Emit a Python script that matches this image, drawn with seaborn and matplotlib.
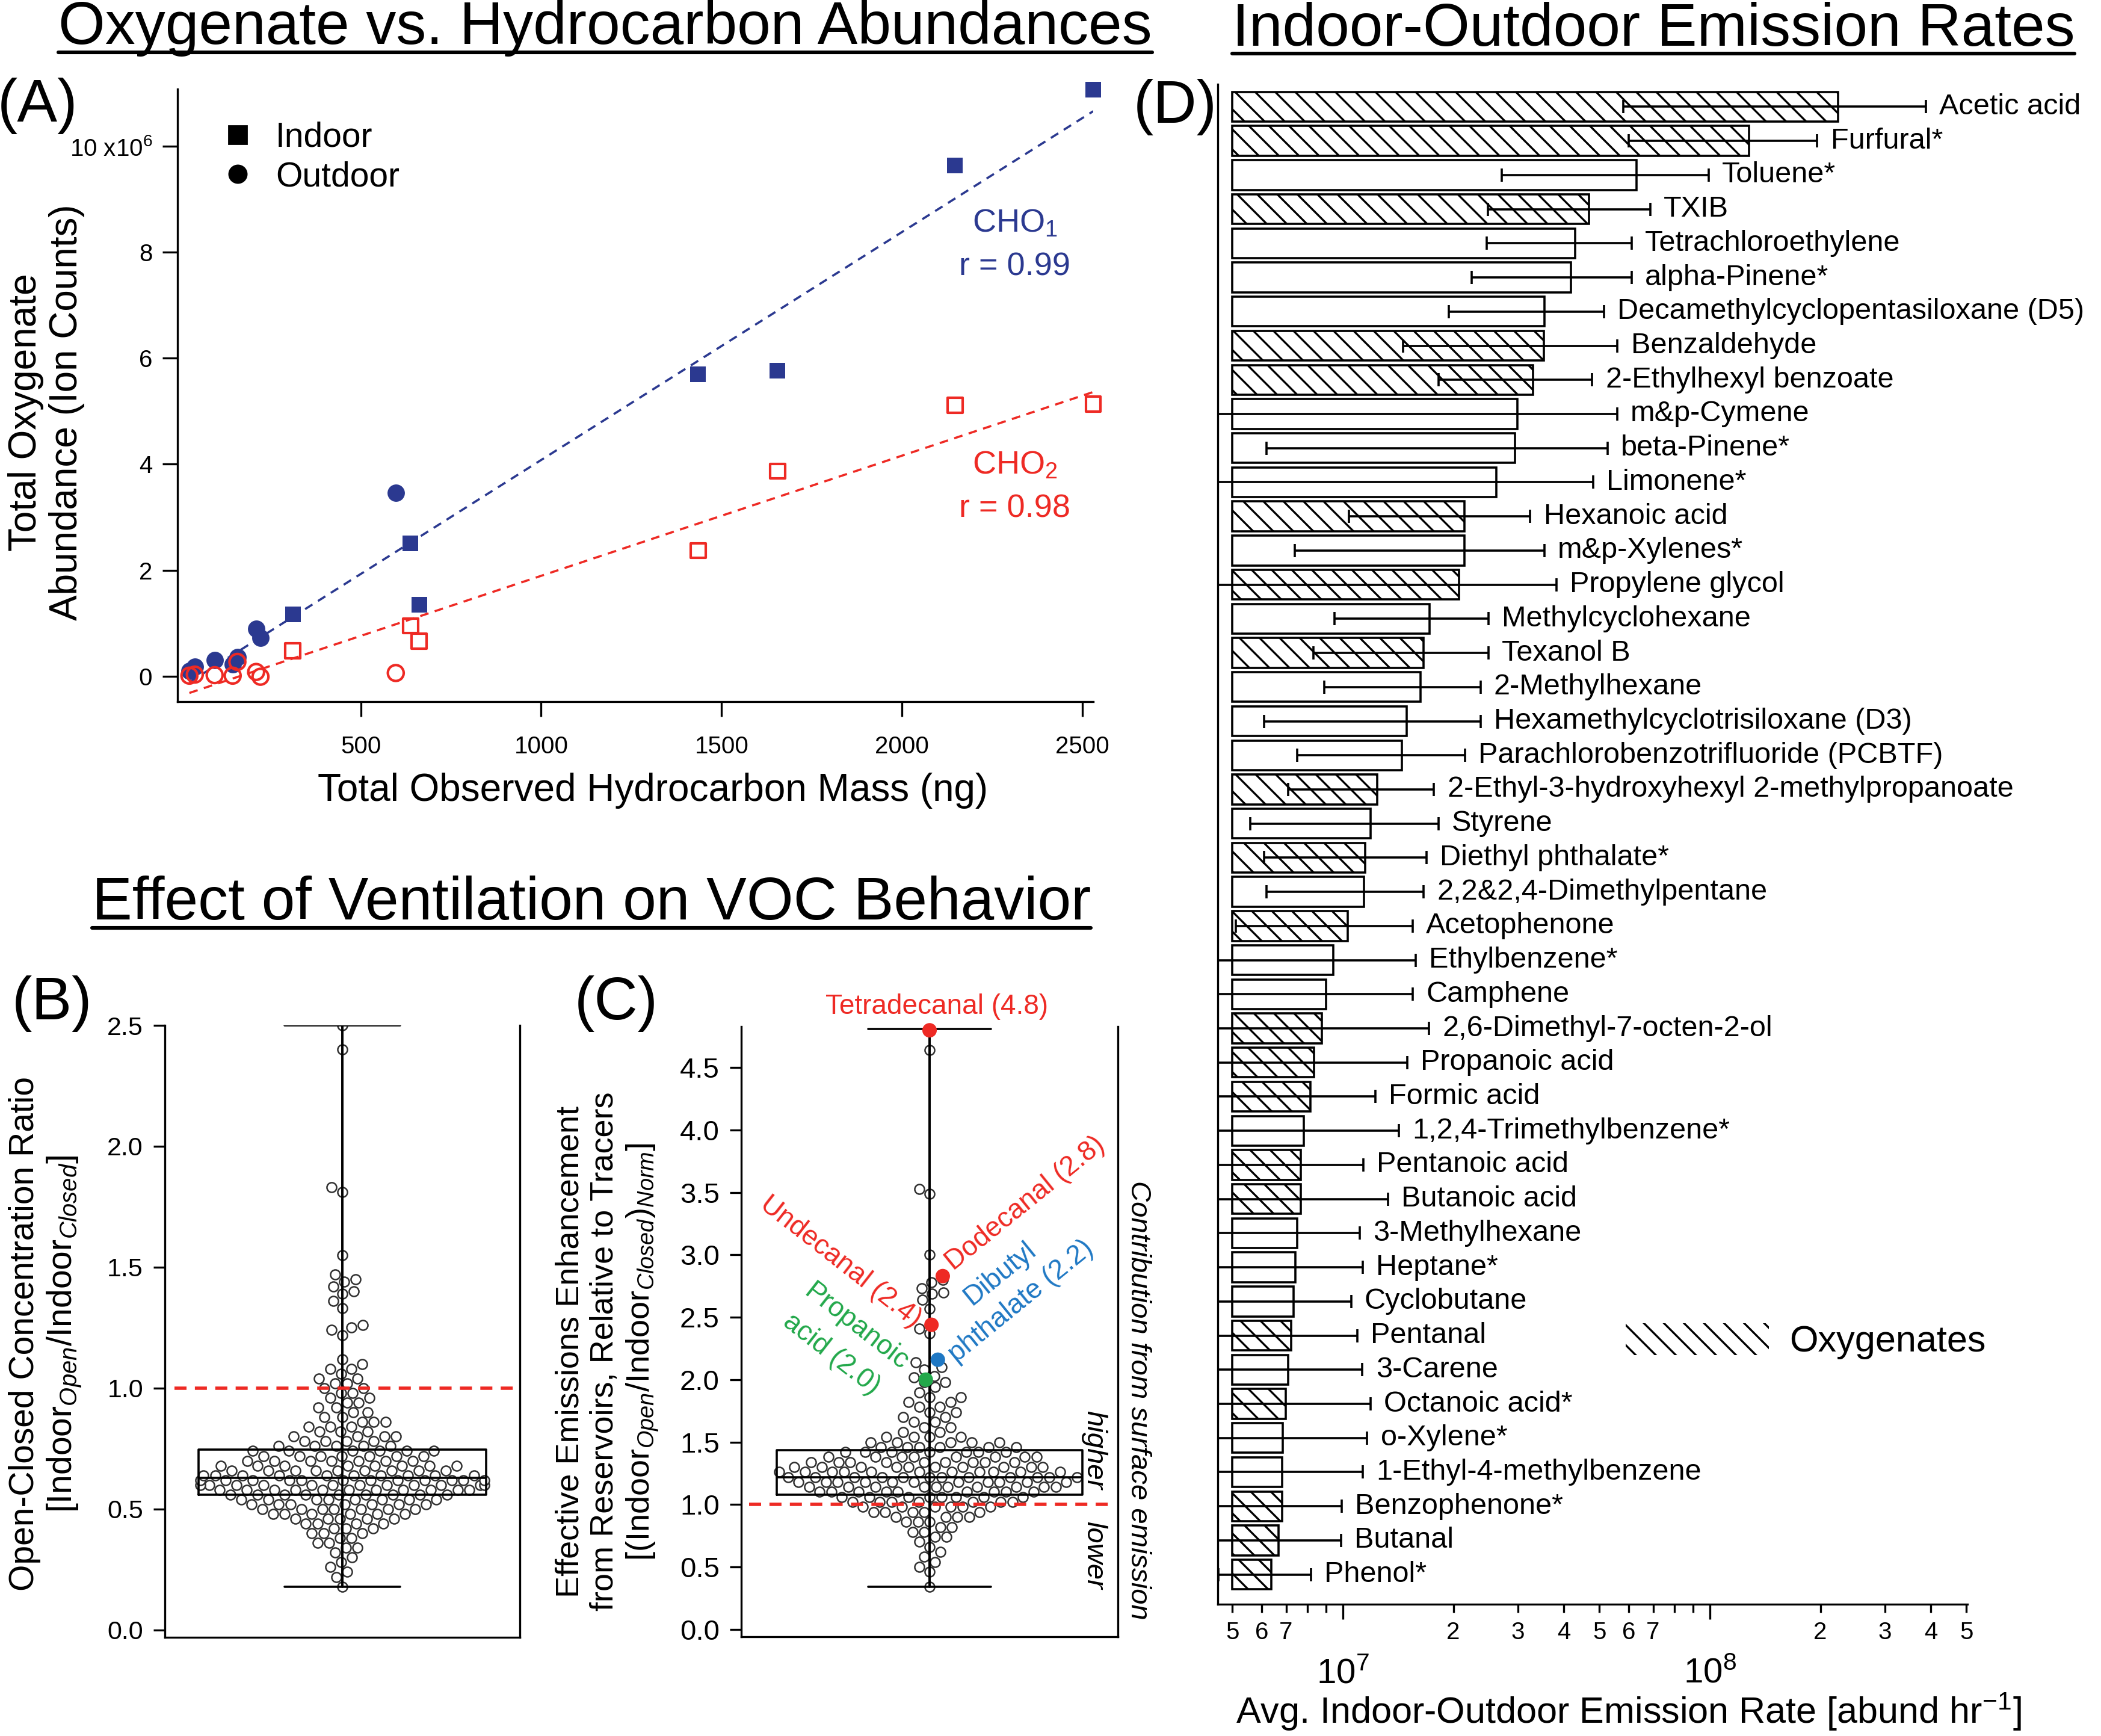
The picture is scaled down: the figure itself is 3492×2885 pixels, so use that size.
import numpy as np
import pandas as pd
import matplotlib
matplotlib.use('Agg')
import matplotlib.pyplot as plt
from matplotlib.lines import Line2D
from matplotlib.patches import Patch
from matplotlib.ticker import LogLocator, FuncFormatter
import seaborn as sns

# ---- style ----
sns.set_style('ticks', rc={'axes.edgecolor': 'black', 'xtick.color': 'black',
                           'ytick.color': 'black', 'text.color': 'black',
                           'axes.labelcolor': 'black'})
plt.rcParams['font.family'] = ['Liberation Sans', 'DejaVu Sans']
plt.rcParams['mathtext.fontset'] = 'custom'
plt.rcParams['mathtext.rm'] = 'Liberation Sans'
plt.rcParams['mathtext.it'] = 'Liberation Sans:italic'
plt.rcParams['mathtext.bf'] = 'Liberation Sans:bold'
plt.rcParams['hatch.linewidth'] = 1.2
plt.rcParams['axes.linewidth'] = 1.2

BLUE = '#2B3990'
RED = '#EE2A24'
LBLUE = '#1F78C4'
GREEN = '#22A84A'

# ---- (A) oxygenate vs hydrocarbon data (ion counts in 1e6) ----
indoor_mass = [312, 638, 662, 1435, 1655, 2147, 2530]
indoor_cho1 = [1.17, 2.51, 1.35, 5.70, 5.77, 9.64, 11.07]
indoor_cho2 = [0.48, 0.95, 0.66, 2.37, 3.87, 5.11, 5.14]
outdoor_mass = [25, 40, 95, 145, 158, 210, 222, 597]
outdoor_cho1 = [0.10, 0.18, 0.30, 0.22, 0.36, 0.89, 0.72, 3.46]
outdoor_cho2 = [0.01, 0.03, 0.02, 0.01, 0.27, 0.08, -0.01, 0.06]

b_levels = [0.18, 0.22, 0.24, 0.26, 0.28, 0.30, 0.32, 0.34, 0.36, 0.38, 0.40, 0.42,
            0.44, 0.46, 0.48, 0.50, 0.52, 0.54, 0.56, 0.58, 0.60, 0.62, 0.64, 0.66,
            0.68, 0.70, 0.72, 0.74, 0.76, 0.78, 0.80, 0.82, 0.84, 0.86, 0.88, 0.90,
            0.92, 0.94, 0.96, 0.98, 1.00, 1.02, 1.04, 1.06, 1.08, 1.10, 1.12]
b_counts = [1, 1, 1, 1, 1, 1, 1, 2, 2, 2, 3, 3,
            4, 5, 6, 7, 7, 8, 9, 11, 12, 12, 10, 9,
            8, 7, 7, 6, 5, 4, 4, 3, 3, 3, 2, 2,
            2, 2, 2, 2, 2, 2, 2, 1, 2, 1, 1]
b_high = [1.22, 1.24, 1.25, 1.26, 1.33, 1.36, 1.39, 1.40, 1.42, 1.44, 1.45, 1.47,
          1.55, 1.81, 1.83, 2.40, 2.50]
b_box = dict(whislo=0.18, q1=0.56, med=0.63, q3=0.745, whishi=2.50)

# ---- (C) effective emissions enhancement ----
c_levels = [0.34, 0.46, 0.50, 0.54, 0.58, 0.62, 0.66, 0.70, 0.74, 0.78, 0.82, 0.86,
            0.90, 0.94, 0.98, 1.02, 1.06, 1.10, 1.14, 1.18, 1.22, 1.26, 1.30, 1.34,
            1.38, 1.42, 1.46, 1.50, 1.54, 1.58, 1.62, 1.66, 1.70, 1.74, 1.78, 1.82,
            1.86, 1.90, 1.94, 1.98]
c_counts = [1, 1, 1, 1, 1, 1, 1, 1, 2, 2, 2, 3,
            4, 5, 6, 7, 8, 9, 10, 11, 12, 11, 10, 9,
            8, 7, 6, 5, 4, 2, 2, 2, 2, 2, 2, 2,
            2, 1, 1, 2]
c_high = [2.02, 2.03, 2.08, 2.10, 2.14, 2.37, 2.41, 2.57, 2.64, 2.69, 2.70, 2.73,
          2.78, 2.80, 3.00, 3.49, 3.53, 4.64]
c_box = dict(whislo=0.34, q1=1.08, med=1.22, q3=1.435, whishi=4.81)
c_named = ['Tetradecanal', 'Dodecanal', 'Undecanal', 'Dibutyl phthalate', 'Propanoic acid']
c_named_value = [4.80, 2.83, 2.44, 2.16, 2.00]
c_named_dx = [0.0, 0.035, 0.005, 0.022, -0.01]
c_named_color = [RED, RED, RED, LBLUE, GREEN]

# ---- (D) indoor-outdoor emission rates (abund/hr, in 1e6) ----
d_compounds = ['Acetic acid', 'Furfural*', 'Toluene*', 'TXIB', 'Tetrachloroethylene',
               'alpha-Pinene*', 'Decamethylcyclopentasiloxane (D5)', 'Benzaldehyde',
               '2-Ethylhexyl benzoate', 'm&p-Cymene', 'beta-Pinene*', 'Limonene*',
               'Hexanoic acid', 'm&p-Xylenes*', 'Propylene glycol', 'Methylcyclohexane',
               'Texanol B', '2-Methylhexane', 'Hexamethylcyclotrisiloxane (D3)',
               'Parachlorobenzotrifluoride (PCBTF)',
               '2-Ethyl-3-hydroxyhexyl 2-methylpropanoate', 'Styrene', 'Diethyl phthalate*',
               '2,2&2,4-Dimethylpentane', 'Acetophenone', 'Ethylbenzene*', 'Camphene',
               '2,6-Dimethyl-7-octen-2-ol', 'Propanoic acid', 'Formic acid',
               '1,2,4-Trimethylbenzene*', 'Pentanoic acid', 'Butanoic acid', '3-Methylhexane',
               'Heptane*', 'Cyclobutane', 'Pentanal', '3-Carene', 'Octanoic acid*',
               'o-Xylene*', '1-Ethyl-4-methylbenzene', 'Benzophenone*', 'Butanal', 'Phenol*']
d_rate = [223, 128, 63.1, 46.8, 42.9, 41.8, 35.4, 35.3, 33.0, 29.9, 29.4, 26.2,
          21.4, 21.4, 20.7, 17.2, 16.6, 16.3, 14.9, 14.5, 12.4, 11.9, 11.5, 11.4,
          10.3, 9.4, 9.0, 8.77, 8.35, 8.16, 7.82, 7.67, 7.67, 7.5, 7.41, 7.33,
          7.24, 7.1, 6.98, 6.85, 6.83, 6.82, 6.68, 6.38]
d_err = [165, 68, 36, 22, 18.3, 19.4, 16, 20.7, 14.8, 26, 23.2, 21.9,
         11, 14, 17.5, 7.7, 8.3, 7.4, 8.8, 7.0, 5.3, 6.3, 5.4, 5.2,
         5.2, 6.4, 6.5, 8.4, 6.6, 4.1, 6.4, 3.7, 5.6, 3.6, 3.9, 3.2,
         3.7, 4.2, 4.9, 4.8, 4.5, 3.1, 3.2, 1.8]
d_oxygenate = [1, 1, 0, 1, 0, 0, 0, 1, 1, 0, 0, 0,
               1, 0, 1, 0, 1, 0, 0, 0, 1, 0, 1, 0,
               1, 0, 0, 1, 1, 1, 0, 1, 1, 0, 0, 0,
               1, 0, 1, 0, 0, 1, 1, 1]
BAR_BASE = 5e6
D_XLIM = (4.56e6, 5.03e8)

# ---- figure geometry (pixels of the 3492x2885 canvas) ----
W, H, DPI = 3492, 2885, 200
fig = plt.figure(figsize=(W / DPI, H / DPI), dpi=DPI)


def rect(l, t, r, b):
    return [l / W, 1 - b / H, (r - l) / W, (b - t) / H]


def ftext(x, y, s, **kw):
    return fig.text(x / W, 1 - y / H, s, **kw)


# ======================= (A) =======================
axA = fig.add_axes(rect(295, 148, 1817, 1166))
all_mass = indoor_mass + outdoor_mass
fit_kw = dict(scatter=False, ci=None, truncate=True, ax=axA)
sns.regplot(x=all_mass, y=indoor_cho1 + outdoor_cho1, color=BLUE,
            line_kws=dict(ls=(0, (4, 3)), lw=1.3), **fit_kw)
sns.regplot(x=all_mass, y=indoor_cho2 + outdoor_cho2, color=RED,
            line_kws=dict(ls=(0, (4, 3)), lw=1.3), **fit_kw)

sns.scatterplot(x=indoor_mass, y=indoor_cho1, marker='s', s=94, color=BLUE,
                edgecolor=BLUE, linewidth=0, ax=axA, zorder=4, clip_on=False)
sns.scatterplot(x=outdoor_mass, y=outdoor_cho1, marker='o', s=108, color=BLUE,
                edgecolor=BLUE, linewidth=0, ax=axA, zorder=4, clip_on=False)
for xs, ys, mk, sz in [(indoor_mass, indoor_cho2, 's', 80), (outdoor_mass, outdoor_cho2, 'o', 90)]:
    sns.scatterplot(x=xs, y=ys, marker=mk, s=sz, color=RED, ax=axA, zorder=5, clip_on=False)
    pts = axA.collections[-1]
    pts.set_facecolor('none')
    pts.set_edgecolor(RED)
    pts.set_linewidth(1.5)

axA.set_xlim(-8, 2530)
axA.set_ylim(-0.48, 11.08)
axA.set_xticks([500, 1000, 1500, 2000, 2500])
axA.set_yticks([0, 2, 4, 6, 8, 10])
axA.set_yticklabels(['0', '2', '4', '6', '8', '10 x10$^{6}$'])
axA.tick_params(axis='both', labelsize=14.5, length=9, width=1.2)
axA.tick_params(axis='x', pad=11)
axA.tick_params(axis='y', pad=6)
sns.despine(ax=axA)
axA.set_xlabel('')
axA.set_ylabel('')

leg_handles = [Line2D([], [], marker='s', color='black', ls='none', markersize=10.5),
               Line2D([], [], marker='o', color='black', ls='none', markersize=10.5)]
axA.legend(leg_handles, ['Indoor', 'Outdoor'], loc='upper left',
           bbox_to_anchor=(0.049, 0.947), frameon=False, fontsize=20.5,
           handlelength=0.9, handletextpad=0.65, labelspacing=0.2,
           borderpad=0, borderaxespad=0)

ftext(1687, 371, 'CHO$_1$', color=BLUE, fontsize=19.5, ha='center', va='center')
ftext(1687, 443, 'r = 0.99', color=BLUE, fontsize=19.5, ha='center', va='center')
ftext(1687, 773, 'CHO$_2$', color=RED, fontsize=19.5, ha='center', va='center')
ftext(1687, 845, 'r = 0.98', color=RED, fontsize=19.5, ha='center', va='center')
ftext(77, 685, 'Total Oxygenate\nAbundance (Ion Counts)', rotation=90, fontsize=23,
      ha='center', va='center', multialignment='center', linespacing=1.15)
ftext(1085, 1314, 'Total Observed Hydrocarbon Mass (ng)', fontsize=23,
      ha='center', va='center')


# ======================= (B) and (C) =======================
def swarm_box(ax, levels, counts, high, box, tick_size):
    values = np.concatenate([np.repeat(levels, counts), high])
    sns.swarmplot(y=values, ax=ax, size=5.8, color='white', edgecolor='#303030',
                  linewidth=0.9, zorder=2, warn_thresh=1.0)
    stats = dict(box, fliers=[])
    line = dict(color='black', linewidth=1.3)
    ax.bxp([stats], positions=[0], widths=[0.81], capwidths=[0.325], showfliers=False,
           manage_ticks=False, boxprops=line, whiskerprops=line, capprops=line,
           medianprops=line, zorder=4)
    ax.vlines(0, box['whislo'], box['whishi'], color='black', lw=1.3, zorder=4)
    ax.set_xlim(-0.5, 0.5)
    ax.set_xticks([])
    ax.set_xlabel('')
    ax.set_ylabel('')
    sns.despine(ax=ax, right=False)
    ax.tick_params(axis='y', labelsize=tick_size, length=7, width=1.2, pad=6)


axB = fig.add_axes(rect(274, 1704, 864, 2721))
swarm_box(axB, b_levels, b_counts, b_high, b_box, 15.5)
axB.axhline(1.0, xmin=0.027, xmax=0.985, color=RED, lw=2, ls=(0, (3.6, 2.5)), zorder=6)
axB.set_ylim(-0.03, 2.5)
axB.set_yticks([0, 0.5, 1.0, 1.5, 2.0, 2.5])
axB.set_yticklabels(['0.0', '0.5', '1.0', '1.5', '2.0', '2.5'])
ftext(76, 2217, 'Open-Closed Concentration Ratio\n[Indoor$_{Open}$/Indoor$_{Closed}$]',
      rotation=90, fontsize=20.5, ha='center', va='center', multialignment='center',
      linespacing=1.15)

axC = fig.add_axes(rect(1232, 1706, 1858, 2720))
swarm_box(axC, c_levels, c_counts, c_high, c_box, 17)
axC.axhline(1.0, xmin=0.02, xmax=0.99, color=RED, lw=2, ls=(0, (3.6, 2.5)), zorder=6)
sns.scatterplot(x=c_named_dx, y=c_named_value, hue=c_named, palette=c_named_color,
                s=75, linewidth=0, ax=axC, zorder=7, legend=False, clip_on=False)
axC.set_ylim(-0.06, 4.83)
axC.set_yticks([0, 0.5, 1.0, 1.5, 2.0, 2.5, 3.0, 3.5, 4.0, 4.5])
axC.set_yticklabels(['0.0', '0.5', '1.0', '1.5', '2.0', '2.5', '3.0', '3.5', '4.0', '4.5'])
axC.set_xlim(-0.5, 0.5)
axC.set_xlabel('')
axC.set_ylabel('')
ftext(1010, 2246, 'Effective Emissions Enhancement\nfrom Reservoirs, Relative to Tracers\n'
      '[(Indoor$_{Open}$/Indoor$_{Closed}$)$_{Norm}$]',
      rotation=90, fontsize=19.5, ha='center', va='center', multialignment='center',
      linespacing=1.2)

lab_kw = dict(fontsize=16.5, ha='center', va='center', rotation_mode='anchor')
ftext(1557, 1673, 'Tetradecanal (4.8)', color=RED, **lab_kw)
ftext(1704, 2000, 'Dodecanal (2.8)', color=RED, rotation=39, **lab_kw)
ftext(1662, 2117, 'Dibutyl', color=LBLUE, rotation=39, **lab_kw)
ftext(1697, 2163, 'phthalate (2.2)', color=LBLUE, rotation=39, **lab_kw)
ftext(1397, 2097, 'Undecanal (2.4)', color=RED, rotation=-38, **lab_kw)
ftext(1423, 2205, 'Propanoic', color=GREEN, rotation=-38, **lab_kw)
ftext(1382, 2251, 'acid (2.0)', color=GREEN, rotation=-38, **lab_kw)

side_kw = dict(fontsize=17, style='italic', rotation=-90, ha='center', va='center',
               rotation_mode='anchor')
ftext(1892, 2327, 'Contribution from surface emission', **side_kw)
ftext(1818, 2410, 'higher', **side_kw)
ftext(1818, 2584, 'lower', **side_kw)

# ======================= (D) =======================
axD = fig.add_axes(rect(2024, 140, 3270, 2666))
rates = np.array(d_rate) * 1e6
errs = np.array(d_err) * 1e6
df = pd.DataFrame({'compound': d_compounds, 'rate': rates})
sns.barplot(data=df, x='rate', y='compound', orient='h', color='white', saturation=1,
            edgecolor='black', linewidth=1.3, width=0.87, errorbar=None, ax=axD)
axD.set_xscale('log')
for patch, val, ox in zip(axD.patches, rates, d_oxygenate):
    patch.set_x(BAR_BASE)
    patch.set_width(val - BAR_BASE)
    if ox:
        patch.set_hatch('\\\\')

# error bars: line clipped at the axis floor, caps only where the end is visible
pos = np.arange(len(d_compounds))
low = np.maximum(rates - errs, D_XLIM[0])
high = rates + errs
axD.hlines(pos, low, high, color='black', lw=1.3, zorder=3)
axD.plot(high, pos, ls='none', marker='|', ms=8, mew=1.3, color='black', zorder=3)
inside = rates - errs > D_XLIM[0]
axD.plot((rates - errs)[inside], pos[inside], ls='none', marker='|', ms=8, mew=1.3,
         color='black', zorder=3)
for name, h, p in zip(d_compounds, high, pos):
    axD.annotate(name, xy=(h, p), xytext=(8, 0), textcoords='offset points',
                 ha='left', va='center', fontsize=17.5, annotation_clip=False)

axD.set_xlim(*D_XLIM)
axD.set_ylim(43.87, -0.66)
axD.set_yticks([])
axD.set_xlabel('')
axD.set_ylabel('')
sns.despine(ax=axD)
axD.xaxis.set_major_locator(LogLocator(base=10))
axD.xaxis.set_minor_locator(LogLocator(base=10, subs=np.arange(2, 10)))
axD.xaxis.set_major_formatter(FuncFormatter(lambda x, p: '$10^{%d}$' % round(np.log10(x))))


def minor_label(x, p):
    d = int(round(x / 10 ** np.floor(np.log10(x) + 1e-9)))
    return str(d) if 2 <= d <= 7 else ''


axD.xaxis.set_minor_formatter(FuncFormatter(minor_label))
axD.tick_params(axis='x', which='minor', length=5, width=1.2, labelsize=14.5, pad=5)
axD.tick_params(axis='x', which='major', length=9, width=1.2, labelsize=21, pad=23)

axD.legend(handles=[Patch(facecolor='white', edgecolor='black', hatch='\\\\', lw=0)],
           labels=['Oxygenates'], loc='center left', bbox_to_anchor=(0.544, 0.173),
           frameon=False, fontsize=22, handlelength=3.9, handleheight=0.95,
           handletextpad=0.55, borderpad=0, borderaxespad=0)
ftext(2707, 2845, 'Avg. Indoor-Outdoor Emission Rate [abund hr$^{-1}$]', fontsize=22,
      ha='center', va='center')

# ======================= titles and panel letters =======================
titles = [
    ftext(1006, 73, 'Oxygenate vs. Hydrocarbon Abundances', fontsize=36, ha='center', va='baseline'),
    ftext(2748, 76, 'Indoor-Outdoor Emission Rates', fontsize=36, ha='center', va='baseline'),
    ftext(983, 1528, 'Effect of Ventilation on VOC Behavior', fontsize=36, ha='center', va='baseline'),
]
underline_y = [87, 89, 1542]
fig.canvas.draw()
for t, uy in zip(titles, underline_y):
    bb = t.get_window_extent()
    fig.add_artist(Line2D([bb.x0 / W, bb.x1 / W], [1 - uy / H, 1 - uy / H],
                          transform=fig.transFigure, color='black', lw=2.2))

for letter, x, y in [('(A)', 62, 176), ('(D)', 1953, 178), ('(B)', 87, 1668), ('(C)', 1024, 1668)]:
    ftext(x, y, letter, fontsize=36, ha='center', va='center')

fig.savefig('out.png', dpi=DPI)
